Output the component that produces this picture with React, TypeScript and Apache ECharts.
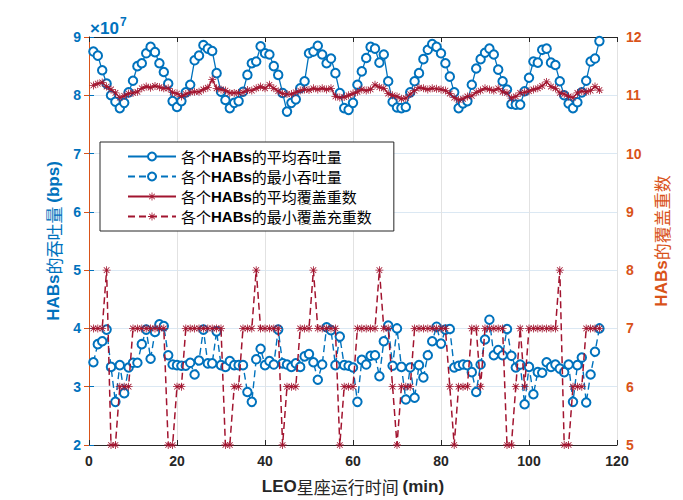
import React, { useEffect, useRef } from "react";
import * as echarts from "echarts";

// time axis (min)
const minutes = [
  1, 2, 3, 4, 5, 6, 7, 8, 9, 10, 11, 12, 13, 14, 15, 16, 17, 18, 19, 20,
  21, 22, 23, 24, 25, 26, 27, 28, 29, 30, 31, 32, 33, 34, 35, 36, 37, 38, 39, 40,
  41, 42, 43, 44, 45, 46, 47, 48, 49, 50, 51, 52, 53, 54, 55, 56, 57, 58, 59, 60,
  61, 62, 63, 64, 65, 66, 67, 68, 69, 70, 71, 72, 73, 74, 75, 76, 77, 78, 79, 80,
  81, 82, 83, 84, 85, 86, 87, 88, 89, 90, 91, 92, 93, 94, 95, 96, 97, 98, 99, 100,
  101, 102, 103, 104, 105, 106, 107, 108, 109, 110, 111, 112, 113, 114, 115, 116,
];

// average throughput of each HAB (x 10^7 bps)
const avgThroughput = [
  8.75, 8.68, 8.43, 8.2, 8.0, 7.89, 7.78, 7.87, 8.05, 8.25,
  8.5, 8.55, 8.72, 8.83, 8.74, 8.55, 8.4, 8.2, 7.9, 7.8,
  7.9, 8.05, 8.18, 8.6, 8.68, 8.86, 8.8, 8.76, 8.38, 8.06,
  7.92, 7.78, 7.87, 7.9, 8.06, 8.35, 8.55, 8.58, 8.84, 8.72,
  8.7, 8.5, 8.35, 8.04, 7.72, 7.87, 7.93, 8.12, 8.24, 8.72,
  8.75, 8.85, 8.7, 8.55, 8.63, 8.38, 8.04, 7.78, 7.75, 7.87,
  8.18, 8.41, 8.64, 8.83, 8.8, 8.56, 8.7, 8.24, 7.89, 7.79,
  7.78, 7.8, 8.05, 8.24, 8.38, 8.62, 8.78, 8.88, 8.83, 8.72,
  8.55, 8.32, 8.05, 7.78, 7.86, 7.9, 8.18, 8.46, 8.62, 8.73,
  8.8, 8.7, 8.44, 8.24, 8.1, 7.85, 7.84, 7.84, 8.07, 8.3,
  8.58, 8.56, 8.78, 8.8, 8.56, 8.52, 8.24, 8.0, 7.86, 7.78,
  7.88, 8.05, 8.25, 8.58, 8.63, 8.93,
];

// minimum throughput of each HAB (x 10^7 bps)
const minThroughput = [
  3.42, 3.73, 3.78, 3.98, 3.34, 2.74, 3.37, 2.89, 3.33, 3.41,
  3.41, 3.73, 3.98, 3.48, 3.94, 4.07, 4.04, 3.54, 3.38, 3.37,
  3.36, 3.36, 3.41, 3.21, 3.45, 3.98, 3.4, 3.4, 3.95, 3.37,
  3.34, 3.44, 3.37, 3.37, 3.37, 2.91, 2.74, 3.47, 3.65, 3.37,
  3.44, 3.38, 3.98, 3.4, 3.38, 3.34, 3.4, 3.34, 3.52, 3.56,
  3.42, 3.12, 3.38, 4.02, 3.97, 3.37, 3.86, 3.37, 3.36, 3.33,
  2.74, 3.46, 3.38, 3.53, 3.54, 3.18, 3.78, 4.05, 3.36, 4.0,
  3.34, 2.78, 3.33, 2.81, 3.37, 3.16, 3.54, 3.78, 4.03, 3.74,
  3.98, 3.99, 3.33, 3.36, 3.38, 3.37, 3.25, 2.91, 3.38, 3.81,
  4.15, 3.54, 3.63, 3.54, 3.99, 3.53, 3.33, 3.38, 2.7, 3.34,
  2.87, 3.25, 3.24, 3.42, 3.34, 3.38, 3.31, 3.25, 3.38, 2.74,
  3.37, 3.5, 2.73, 3.21, 3.6, 4.0,
];

// average coverage multiplicity of each HAB
const avgCoverage = [
  11.17, 11.2, 11.22, 11.15, 11.1, 11.04, 10.96, 10.99, 11.03, 11.04,
  11.06, 11.12, 11.15, 11.13, 11.16, 11.14, 11.12, 11.12, 11.05, 11.03,
  10.98, 11.02, 11.05, 11.06, 11.06, 11.1, 11.13, 11.27, 11.12, 11.1,
  11.08, 11.04, 11.04, 11.04, 11.05, 11.09, 11.08, 11.12, 11.15, 11.12,
  11.18, 11.12, 11.07, 11.03, 11.02, 11.02, 11.05, 11.08, 11.1, 11.09,
  11.12, 11.1, 11.12, 11.1, 11.12, 10.98, 10.96, 10.97, 11.0, 11.03,
  11.06, 11.1, 11.08, 11.1, 11.18, 11.14, 11.12, 11.03, 11.0, 10.98,
  10.94, 10.95, 11.02, 11.08, 11.13, 11.12, 11.1, 11.12, 11.11, 11.1,
  11.08, 11.03, 10.96, 10.92, 10.94, 10.98, 10.99, 11.05, 11.08, 11.12,
  11.1, 11.08, 11.12, 11.06, 11.04, 10.95, 10.98, 11.04, 11.05, 11.07,
  11.1, 11.12, 11.16, 11.23, 11.15, 11.12, 11.04, 11.02, 10.98, 10.96,
  11.04, 11.07, 11.06, 11.08, 11.15, 11.09,
];

// minimum coverage multiplicity of each HAB
const minCoverage = [
  7, 7, 7, 8, 5, 5, 6, 6, 6, 7,
  7, 7, 7, 7, 7, 7, 7, 5, 5, 6,
  6, 7, 7, 7, 7, 7, 7, 7, 7, 7,
  5, 5, 6, 6, 7, 7, 7, 8, 7, 7,
  7, 7, 7, 5, 6, 6, 6, 7, 7, 7,
  8, 7, 7, 7, 7, 7, 5, 6, 6, 6,
  7, 7, 7, 7, 7, 8, 7, 7, 6, 5,
  6, 6, 6, 7, 7, 7, 7, 7, 7, 7,
  7, 6, 5, 6, 6, 6, 7, 7, 6, 7,
  7, 7, 7, 7, 5, 5, 6, 7, 6, 7,
  7, 7, 7, 7, 7, 7, 8, 5, 5, 6,
  6, 6, 7, 7, 7, 7,
];

const seriesNames = [
  "各个HABs的平均吞吐量",
  "各个HABs的最小吞吐量",
  "各个HABs的平均覆盖重数",
  "各个HABs的最小覆盖充重数",
];

const xTicks = { min: 0, max: 120, interval: 20 };
const leftTicks = { min: 2, max: 9, interval: 1 };
const rightTicks = { min: 5, max: 12, interval: 1 };

const BLUE = "#0072BD";
const RED = "#A2142F";
const ORANGE = "#D95319";
const DARK = "#262626";
const LATIN = "Liberation Sans, Arial, sans-serif";
const CJK = "Noto Sans CJK SC, sans-serif";

const ASTERISK =
  "path://M-1,-10L1,-10L1,10L-1,10Z M-10,-1L10,-1L10,1L-10,1Z M-6.36,-7.78L7.78,6.36L6.36,7.78L-7.78,-6.36Z M6.36,-7.78L7.78,-6.36L-6.36,7.78L-7.78,6.36Z";

const pairs = (vals: number[]) => vals.map((v, i) => [minutes[i], v]);

export default function App() {
  const ref = useRef<HTMLDivElement>(null);
  useEffect(() => {
    if (!ref.current) return;
    const chart = echarts.init(ref.current, null, { renderer: "svg" });
    const tickLabel = (color: string) => ({
      color,
      fontSize: 14,
      fontWeight: "bold",
      fontFamily: LATIN,
    });
    const nameStyle = (color: string) => ({
      color,
      fontSize: 17,
      fontFamily: CJK,
      rich: {
        b: { color, fontSize: 17, fontWeight: "bold", fontFamily: LATIN },
      },
    });
    chart.setOption({
      animation: false,
      backgroundColor: "#fff",
      grid: { left: 89, right: 66, top: 37, bottom: 54, containLabel: false },
      legend: {
        data: seriesNames,
        orient: "vertical",
        left: 100,
        top: 142,
        padding: [7, 22, 7, 27],
        itemGap: 5,
        itemWidth: 48,
        itemHeight: 10,
        backgroundColor: "#fff",
        borderColor: DARK,
        borderWidth: 1,
        borderRadius: 0,
        formatter: (name: string) => name.replace("HABs", "{b|HABs}"),
        textStyle: {
          color: "#000",
          fontSize: 15,
          fontFamily: CJK,
          rich: {
            b: { color: "#000", fontSize: 15, fontWeight: "bold", fontFamily: LATIN },
          },
        },
      },
      xAxis: [
        {
          type: "value",
          position: "bottom",
          ...xTicks,
          axisLine: { show: true, lineStyle: { color: DARK, width: 1 } },
          axisTick: { show: true, inside: true, length: 5, lineStyle: { color: DARK } },
          axisLabel: { ...tickLabel(DARK), margin: 9 },
          splitLine: { show: true, lineStyle: { color: "#E2E2E2", width: 1 } },
          name: "{b|LEO}星座运行时间 {b|(min)}",
          nameLocation: "middle",
          nameGap: 33,
          nameTextStyle: nameStyle(DARK),
        },
        {
          type: "value",
          position: "top",
          ...xTicks,
          axisLine: { show: true, lineStyle: { color: DARK, width: 1 } },
          axisTick: { show: true, inside: true, length: 5, lineStyle: { color: DARK } },
          axisLabel: { show: false },
          splitLine: { show: false },
        },
      ],
      yAxis: [
        {
          type: "value",
          position: "left",
          ...leftTicks,
          axisLine: { show: true, lineStyle: { color: BLUE, width: 1 } },
          axisTick: { show: true, inside: true, length: 5, lineStyle: { color: BLUE } },
          axisLabel: { ...tickLabel(BLUE), margin: 8 },
          splitLine: { show: true, lineStyle: { color: "#DBE8F3", width: 1 } },
          name: "{b|HABs}的吞吐量 {b|(bps)}",
          nameLocation: "middle",
          nameRotate: 90,
          nameGap: 19,
          nameTextStyle: nameStyle(BLUE),
        },
        {
          type: "value",
          position: "right",
          ...rightTicks,
          axisLine: { show: true, lineStyle: { color: ORANGE, width: 1 } },
          axisTick: { show: true, inside: true, length: 5, lineStyle: { color: ORANGE } },
          axisLabel: { ...tickLabel(ORANGE), margin: 9 },
          splitLine: { show: false },
          name: "{b|HABs}的覆盖重数",
          nameLocation: "middle",
          nameRotate: 90,
          nameGap: 36,
          nameTextStyle: nameStyle(ORANGE),
        },
      ],
      graphic: [
        {
          type: "text",
          left: 90,
          top: 20,
          style: { text: "×10", fill: BLUE, fontSize: 17, fontFamily: LATIN, fontWeight: "bold" },
        },
        {
          type: "text",
          left: 120,
          top: 16,
          style: { text: "7", fill: BLUE, fontSize: 12, fontFamily: LATIN, fontWeight: "bold" },
        },
      ],
      series: [
        {
          name: seriesNames[0],
          type: "line",
          xAxisIndex: 0,
          yAxisIndex: 0,
          data: pairs(avgThroughput),
          symbol: "emptyCircle",
          symbolSize: 8.5,
          showAllSymbol: true,
          lineStyle: { color: BLUE, width: 1.3 },
          itemStyle: { color: BLUE, borderWidth: 1.3 },
          z: 2,
        },
        {
          name: seriesNames[1],
          type: "line",
          xAxisIndex: 0,
          yAxisIndex: 0,
          data: pairs(minThroughput),
          symbol: "emptyCircle",
          symbolSize: 8.5,
          showAllSymbol: true,
          lineStyle: { color: BLUE, width: 1.4, type: [7, 4] },
          itemStyle: { color: BLUE, borderWidth: 1.3 },
          z: 2,
        },
        {
          name: seriesNames[2],
          type: "line",
          xAxisIndex: 0,
          yAxisIndex: 1,
          data: pairs(avgCoverage),
          symbol: ASTERISK,
          symbolSize: 8,
          showAllSymbol: true,
          lineStyle: { color: RED, width: 1.4 },
          itemStyle: { color: RED },
          z: 3,
        },
        {
          name: seriesNames[3],
          type: "line",
          xAxisIndex: 0,
          yAxisIndex: 1,
          data: pairs(minCoverage),
          symbol: ASTERISK,
          symbolSize: 8,
          showAllSymbol: true,
          lineStyle: { color: RED, width: 1.5, type: [7, 4] },
          itemStyle: { color: RED },
          z: 3,
        },
      ],
    });
    return () => chart.dispose();
  }, []);
  return (
    <div
      ref={ref}
      style={{ position: "fixed", left: 0, top: 0, width: 683, height: 500, background: "#fff" }}
    />
  );
}
